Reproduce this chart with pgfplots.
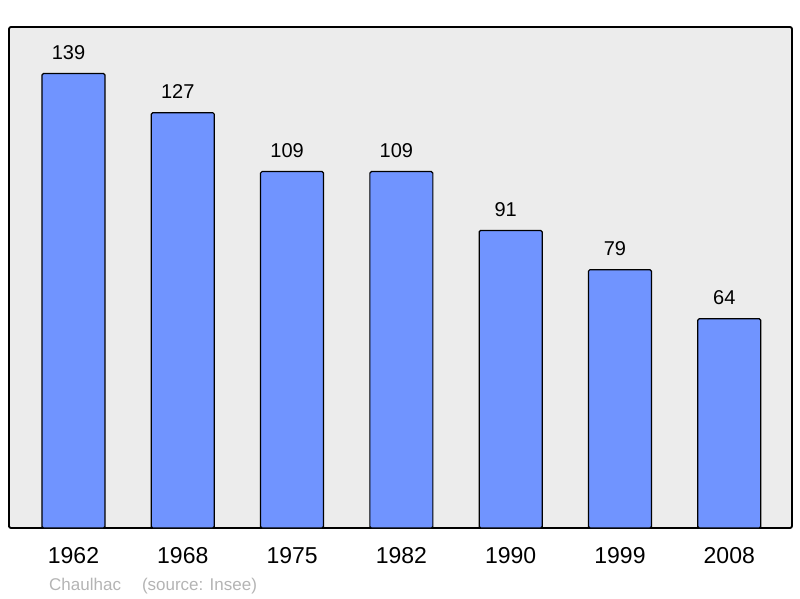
\documentclass[border=0pt]{standalone}
\usepackage{fontspec}
\setmainfont{Liberation Sans}
\usepackage{pgfplots}
\pgfplotsset{compat=1.18}
\definecolor{barblue}{HTML}{7094FF}
\definecolor{panel}{HTML}{ECECEC}
\definecolor{foot}{HTML}{B4B4B4}

\begin{document}
\begin{tikzpicture}[x=1pt,y=1pt]
\path[use as bounding box] (0,0) rectangle (800,598);
\begin{axis}[
  at={(9pt,70pt)}, anchor=south west,
  scale only axis,
  width=783pt, height=501pt,
  xmin=-0.59, xmax=6.574,
  ymin=0, ymax=153.2,
  axis background/.style={fill=panel},
  axis line style={line width=1.8pt, rounded corners=2pt},
  xtick=data,
  xticklabels={1962,1968,1975,1982,1990,1999,2008},
  xticklabel style={font=\fontsize{23}{27}\selectfont, yshift=-12pt},
  xtick style={draw=none},
  ytick=\empty,
  ybar, bar width=63pt,
  /pgf/number format/assume math mode=true,
  nodes near coords,
  every node near coord/.append style={font=\fontsize{20}{24}\selectfont, yshift=10pt, xshift=-5pt, black},
]
\addplot[fill=barblue, draw=black, line width=1.2pt, rounded corners=1.5pt]
  coordinates {(0,139) (1,127) (2,109) (3,109) (4,91) (5,79) (6,64)};
\end{axis}
\node[anchor=west, text=foot, font=\fontsize{17}{20}\selectfont, inner sep=0pt] at (49,12) {Chaulhac\hspace{21pt}(source: Insee)};
\end{tikzpicture}
\end{document}
